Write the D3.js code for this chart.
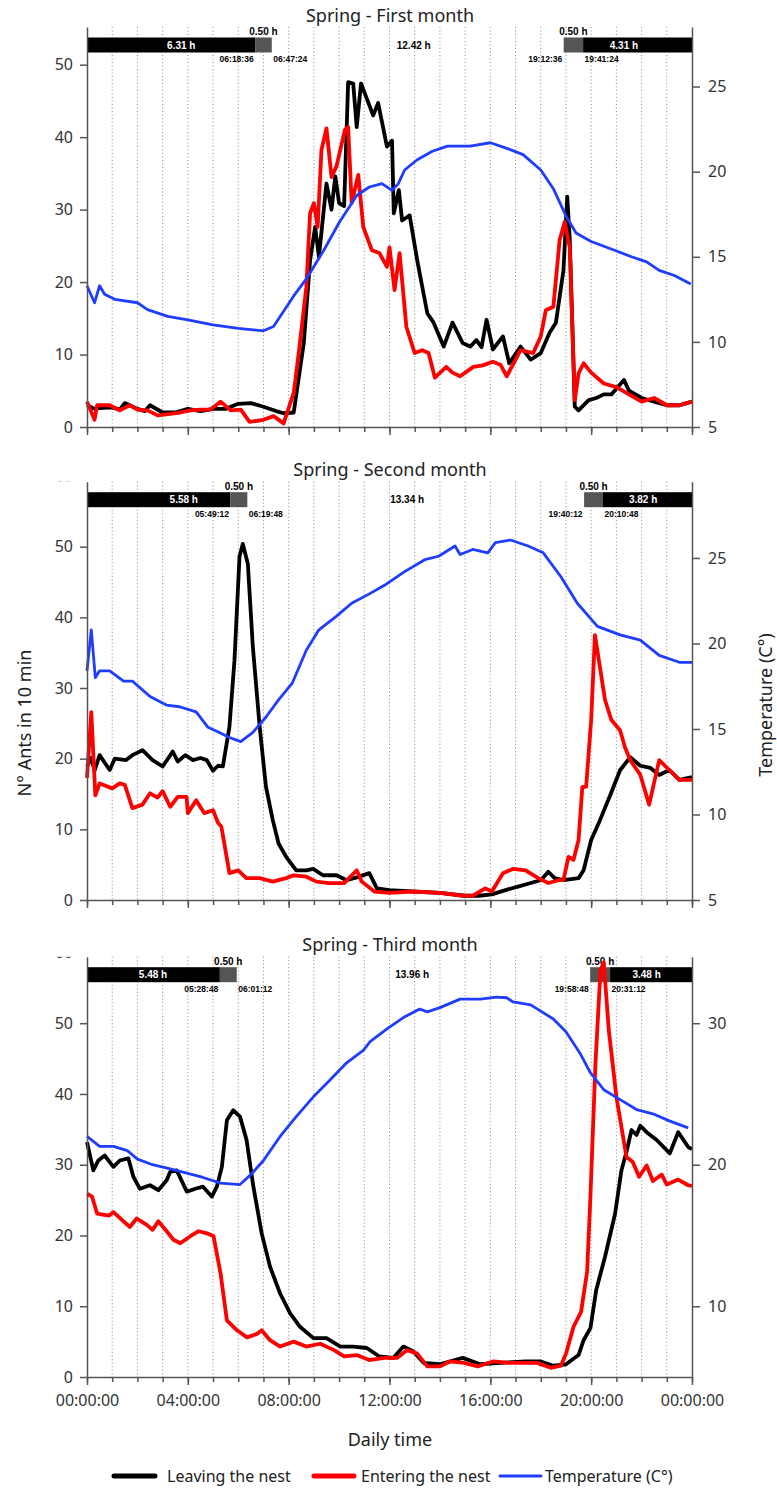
<!DOCTYPE html>
<html>
<head>
<meta charset="utf-8">
<script src="https://cdn.jsdelivr.net/npm/d3@7"></script>
<style>
body{margin:0;background:#fff}
svg{display:block}
</style>
</head>
<body>
<svg id="chart"></svg>
<script>
// [hour of day, value]
const spring1Leaving = [[0,3],[0.3,2.5],[0.5,2.6],[1,2.7],[1.3,2.4],[1.5,3.3],[2,2.5],[2.3,2.2],[2.5,3],[3,2],[3.5,2],[4,2.5],[4.5,2.2],[5,2.5],[5.5,2.5],[6,3.2],[6.5,3.3],[7,2.8],[7.5,2.2],[7.8,1.9],[8.2,2],[8.6,11.6],[8.85,23],[9.05,27.6],[9.2,23.5],[9.5,33.6],[9.7,30],[9.85,34.6],[10,30.9],[10.2,30.5],[10.36,47.6],[10.56,47.4],[10.7,41.4],[10.87,47.4],[11.07,45.6],[11.35,43],[11.55,44.7],[11.9,38.7],[12.1,39.5],[12.17,29.5],[12.37,32.7],[12.5,28.5],[12.8,29.2],[13.1,23],[13.5,15.7],[13.75,14.4],[14.15,11.1],[14.5,14.4],[14.9,11.6],[15.2,11.1],[15.45,12],[15.65,11],[15.85,14.8],[16.1,10.7],[16.5,12.5],[16.75,8.8],[17.2,11.1],[17.6,9.3],[18,10.2],[18.35,13],[18.6,14.4],[18.9,21.6],[19.05,31.8],[19.15,26],[19.35,2.8],[19.5,2.3],[19.9,3.7],[20.2,4],[20.5,4.5],[20.8,4.5],[21.3,6.5],[21.5,5],[22,4],[22.5,3.5],[23,3],[23.5,3],[24,3.5]];
const spring1Entering = [[0,3.5],[0.3,1],[0.4,3],[0.9,3],[1.3,2.3],[1.7,3],[2,2.4],[2.4,2.3],[2.8,1.6],[3.3,1.8],[3.7,2],[4.1,2.3],[4.5,2.4],[4.9,2.4],[5.3,3.5],[5.7,2.3],[6.1,2.4],[6.45,0.7],[7,1],[7.4,1.5],[7.8,0.5],[8.2,4.7],[8.4,10.2],[8.7,19.3],[8.85,29.5],[9,30.9],[9.15,27.6],[9.3,38.2],[9.5,41.2],[9.7,34.5],[9.9,36],[10.23,41],[10.36,41.4],[10.5,30.9],[10.76,34.8],[10.96,27.6],[11.3,24.4],[11.6,24],[11.9,22.1],[12,24.8],[12.2,18.9],[12.4,24],[12.67,13.8],[13,10.2],[13.3,10.6],[13.55,10.2],[13.8,6.8],[14.25,8.3],[14.5,7.5],[14.8,7],[15.33,8.3],[15.7,8.5],[16.1,9],[16.4,8.6],[16.65,7],[17.2,10.6],[17.7,10.2],[18,12.5],[18.2,16.1],[18.5,16.6],[18.75,25.8],[18.95,28.3],[19.15,24.8],[19.35,3.7],[19.5,7.4],[19.7,8.8],[20,7.5],[20.5,6],[21,5.5],[21.5,4.5],[22,3.5],[22.5,4],[23,3],[23.5,3],[24,3.5]];
const spring1Temp = [[0,13.3],[0.3,12.3],[0.5,13.3],[0.7,12.8],[1.1,12.5],[2,12.3],[2.4,11.9],[3.2,11.5],[4,11.3],[5,11],[6,10.8],[7,10.65],[7.4,10.9],[8.2,12.7],[8.7,13.7],[9.4,15.4],[10,17],[10.7,18.6],[11.2,19.1],[11.7,19.3],[12.1,18.9],[12.35,19.3],[12.6,20.1],[13.1,20.7],[13.7,21.2],[14.3,21.5],[15.2,21.5],[16,21.7],[16.6,21.4],[17.3,21],[18,20.1],[18.5,19],[19,17.4],[19.4,16.4],[20,15.9],[20.9,15.4],[21.6,15],[22.2,14.7],[22.7,14.2],[23.3,13.9],[23.95,13.4]];

const spring2Leaving = [[0,18.9],[0.17,20.1],[0.3,18.3],[0.5,20.5],[0.9,18.4],[1.1,20],[1.55,19.8],[1.8,20.5],[2.2,21.2],[2.6,19.8],[3,18.9],[3.4,21],[3.6,19.6],[3.9,20.5],[4.2,19.8],[4.5,20.1],[4.75,19.8],[5,18.3],[5.2,19],[5.39,18.9],[5.65,24.5],[5.85,33.9],[6.05,48.6],[6.18,50.4],[6.38,47.6],[6.58,35.8],[6.85,24.5],[7.1,16],[7.37,11.3],[7.6,8],[7.9,6.1],[8.3,4.2],[8.7,4.2],[8.97,4.4],[9.36,3.5],[9.9,3.5],[10.3,2.8],[10.7,3.2],[11.2,3.8],[11.5,1.65],[12,1.4],[12.9,1.2],[14,1],[15,0.6],[15.55,0.6],[16.06,0.8],[16.6,1.4],[17.1,1.9],[17.6,2.4],[18,2.8],[18.3,4],[18.55,3.1],[18.9,2.8],[19.5,3.1],[19.7,4.2],[20,8.5],[20.35,11.3],[20.75,14.8],[21.15,18.4],[21.55,20.2],[21.95,19],[22.34,18.7],[22.7,17.7],[23.1,18.4],[23.5,17],[24,17.4]];
const spring2Entering = [[0,17.3],[0.17,26.6],[0.33,14.8],[0.5,16.5],[1,15.8],[1.3,16.5],[1.5,16.3],[1.8,13],[2.2,13.5],[2.5,15.1],[2.8,14.5],[3,15.4],[3.3,13.2],[3.6,14.6],[3.95,14.6],[4,12.3],[4.33,14.1],[4.65,12.3],[5,12.7],[5.2,10.9],[5.33,10.4],[5.65,3.8],[6,4.2],[6.32,3.1],[6.85,3.1],[7.37,2.6],[7.9,3.1],[8.2,3.5],[8.7,3.3],[9.1,2.6],[9.6,2.4],[10.2,2.4],[10.7,4.2],[10.9,2.6],[11.4,1.2],[12,1],[12.9,1.2],[14,1],[14.9,0.6],[15.3,0.6],[15.8,1.65],[16.06,1.2],[16.5,3.8],[16.9,4.4],[17.4,4.2],[17.9,3.1],[18.3,2.4],[18.7,2.8],[18.9,2.8],[19.1,6.1],[19.3,5.7],[19.5,8.5],[19.65,16],[19.8,16],[20,25.5],[20.15,37.5],[20.55,28.3],[20.8,25.5],[21.15,24],[21.35,21.5],[21.55,19.8],[21.95,17.7],[22.3,13.5],[22.7,19.8],[23.1,18.4],[23.5,17],[24,17]];
const spring2Temp = [[0,18.4],[0.17,20.8],[0.33,18],[0.5,18.4],[0.9,18.4],[1.45,17.8],[1.8,17.8],[2.5,16.9],[3.15,16.4],[3.67,16.3],[4.33,16],[4.8,15.1],[5.25,14.8],[5.65,14.5],[6.1,14.26],[6.58,14.8],[7.1,15.7],[7.6,16.7],[8.15,17.7],[8.7,19.6],[9.2,20.8],[9.9,21.6],[10.5,22.35],[11.2,22.9],[11.8,23.4],[12.6,24.2],[13.4,24.9],[13.95,25.1],[14.6,25.7],[14.8,25.2],[15.3,25.5],[15.9,25.3],[16.2,25.9],[16.8,26.05],[17.5,25.7],[18.1,25.3],[18.8,23.9],[19.45,22.35],[20.25,21],[21.15,20.5],[21.95,20.2],[22.7,19.3],[23.5,18.9],[24,18.9]];

const spring3Leaving = [[0,33.2],[0.25,29.2],[0.45,30.6],[0.7,31.3],[1.05,29.7],[1.3,30.6],[1.64,30.9],[1.84,28.3],[2.1,26.6],[2.5,27.1],[2.83,26.4],[3.16,27.8],[3.3,29],[3.56,29.2],[3.96,26.2],[4.3,26.6],[4.6,26.9],[4.95,25.5],[5.15,26.9],[5.35,29.7],[5.55,36.3],[5.8,37.7],[6.07,36.8],[6.33,33.5],[6.6,26.9],[6.93,20.3],[7.26,15.6],[7.66,11.8],[8.06,9],[8.45,7.1],[8.98,5.5],[9.5,5.5],[10.05,4.3],[10.57,4.3],[11.1,4.1],[11.6,2.9],[12.15,2.7],[12.55,4.3],[12.95,3.6],[13.35,2],[14,1.8],[14.9,2.7],[15.6,1.8],[16.4,2],[17.4,2.2],[18,2.2],[18.5,1.6],[19,1.8],[19.5,3.1],[19.7,5.2],[19.97,6.9],[20.2,12.3],[20.55,17],[20.95,23.1],[21.2,29.2],[21.4,31.8],[21.6,34.9],[21.8,34.2],[21.95,35.5],[22.2,34.6],[22.6,33.5],[23.12,31.6],[23.45,34.6],[23.85,32.5],[24,32.2]];
const spring3Entering = [[0,25.9],[0.2,25.5],[0.4,23.1],[0.86,22.8],[1.05,23.3],[1.45,22],[1.7,21.2],[1.97,22.4],[2.37,21.5],[2.6,20.8],[2.83,22],[3.16,20.6],[3.43,19.4],[3.7,18.9],[4.1,19.9],[4.43,20.6],[4.76,20.3],[5.02,19.9],[5.3,14.6],[5.55,8],[5.95,6.6],[6.35,5.6],[6.75,6.1],[6.93,6.6],[7.26,5.2],[7.66,4.3],[8.2,5],[8.7,4.3],[9.25,4.7],[9.8,3.8],[10.2,2.9],[10.7,3.1],[11.2,2.4],[11.8,2.7],[12.3,2.7],[12.7,3.8],[13.1,3.3],[13.5,1.5],[14,1.5],[14.4,2.2],[14.95,2],[15.5,1.5],[16.1,2.2],[16.8,2],[17.4,2],[17.85,2],[18.4,1.3],[18.8,1.6],[19,3.3],[19.3,7.1],[19.6,9.2],[19.84,14.9],[19.97,25.5],[20.17,44.3],[20.37,57.5],[20.5,58.6],[20.7,49],[21,39.6],[21.4,31.1],[21.65,30.4],[21.9,28.3],[22.2,29.9],[22.45,27.7],[22.8,28.6],[23,27.2],[23.45,27.9],[23.85,27.1],[24,27]];
const spring3Temp = [[0,22],[0.5,21.3],[1.05,21.3],[1.6,21],[2,20.4],[2.6,20],[3.3,19.7],[3.96,19.4],[4.6,19.1],[5.3,18.7],[6.07,18.6],[6.5,19.3],[7,20.3],[7.66,22],[8.3,23.4],[8.98,24.8],[9.65,26],[10.3,27.2],[10.97,28.1],[11.23,28.7],[11.9,29.6],[12.55,30.4],[13.2,31],[13.5,30.8],[14,31.1],[14.8,31.7],[15.6,31.7],[16.25,31.85],[16.65,31.8],[16.9,31.5],[17.6,31.3],[18,30.85],[18.5,30.3],[19,29.4],[19.55,27.9],[19.97,26.5],[20.5,25.3],[21.15,24.6],[21.8,23.9],[22.45,23.6],[23.1,23.1],[23.85,22.6]];

// day/night bar: edges of the two twilight blocks (hours), texts, sun times
const spring1Bar = [6.67,7.33,18.91,19.68];
const spring1BarText = ["6.31 h","12.42 h","4.31 h"];
const spring1BarTextAt = [3.74,12.96,21.3];
const spring1SunTimes = ["06:18:36","06:47:24","19:12:36","19:41:24"];
const spring2Bar = [5.69,6.36,19.72,20.47];
const spring2BarText = ["5.58 h","13.34 h","3.82 h"];
const spring2BarTextAt = [3.84,12.7,22.06];
const spring2SunTimes = ["05:49:12","06:19:48","19:40:12","20:10:48"];
const spring3Bar = [5.27,5.94,19.96,20.75];
const spring3BarText = ["5.48 h","13.96 h","3.48 h"];
const spring3BarTextAt = [2.62,12.9,22.2];
const spring3SunTimes = ["05:28:48","06:01:12","19:58:48","20:31:12"];
const twilightText = "0.50 h";

const countTicks = [0,10,20,30,40,50,60];
const temp1Ticks = [5,10,15,20,25];
const temp2Ticks = [5,10,15,20,25,30];
const temp3Ticks = [10,20,30];
const timeTicks = [0,4,8,12,16,20,24];
const timeLabels = ["00:00:00","04:00:00","08:00:00","12:00:00","16:00:00","20:00:00","00:00:00"];
const seriesNames = ["Leaving the nest","Entering the nest","Temperature (C°)"];

const W = 777, H = 1490;
const left = 87, right = 692;
const font = "'Noto Sans', 'Open Sans', sans-serif";
const barFont = "'Liberation Sans', Arial, sans-serif";
const colors = {leave:"#000000", enter:"#ff0000", temp:"#1f3cff"};

const svg = d3.select("#chart").attr("width",W).attr("height",H);
const x = d3.scaleLinear().domain([0,24]).range([left,right]);

function panel(cfg,idx){
    const top = cfg.top, bottom = cfg.bottom;
    const y = d3.scaleLinear().domain([0,cfg.yMax]).range([bottom,top]);
    const yt = d3.scaleLinear().domain([5,cfg.tMax]).range([bottom,top]);
    const g = svg.append("g");

    // axis groups are translated in x only, so a wide rect in their own coords
    svg.append("clipPath").attr("id","clip"+idx)
        .append("rect").attr("x",-200).attr("y",top).attr("width",W+400).attr("height",bottom-top+60);

    // hourly dotted grid
    g.selectAll(".grid").data(d3.range(1,24)).join("line")
        .attr("x1",d=>x(d)).attr("x2",d=>x(d))
        .attr("y1",top).attr("y2",bottom)
        .attr("stroke","#8a8a8a").attr("stroke-width",1)
        .attr("stroke-dasharray","1,2.5");

    // title
    g.append("text").attr("x",390).attr("y",top-5.5)
        .attr("text-anchor","middle").attr("font-family",font).attr("font-size",18)
        .attr("fill","#222").text(cfg.title);

    // night / twilight / day bar
    const b = cfg.bar;
    const by = top+10.5, bh = 15;
    const segs = [[0,b[0],"#000"],[b[0],b[1],"#555"],[b[2],b[3],"#555"],[b[3],24,"#000"]];
    g.selectAll(".seg").data(segs).join("rect")
        .attr("x",d=>x(d[0])).attr("width",d=>x(d[1])-x(d[0]))
        .attr("y",by).attr("height",bh).attr("fill",d=>d[2]);
    g.selectAll(".dur").data(cfg.barText).join("text")
        .attr("x",(d,i)=>x(cfg.barTextAt[i])).attr("y",by+bh/2+3.5)
        .attr("text-anchor","middle").attr("font-family",barFont)
        .attr("font-weight","bold").attr("font-size",10)
        .attr("fill",(d,i)=>i==1?"#000":"#fff").text(d=>d);
    g.selectAll(".tw").data([(b[0]+b[1])/2,(b[2]+b[3])/2]).join("text")
        .attr("x",d=>x(d)).attr("y",top+8)
        .attr("text-anchor","middle").attr("font-family",barFont)
        .attr("font-weight","bold").attr("font-size",10).attr("fill","#000")
        .text(twilightText);
    g.selectAll(".sun").data(cfg.sunTimes).join("text")
        .attr("x",(d,i)=>x(b[i])+(i%2==0?-1.5:1.5)).attr("y",top+35)
        .attr("text-anchor",(d,i)=>i%2==0?"end":"start")
        .attr("font-family",barFont).attr("font-weight","bold").attr("font-size",8.5)
        .attr("fill","#000").text(d=>d);

    // series
    const lineC = d3.line().x(d=>x(d[0])).y(d=>y(d[1]));
    const lineT = d3.line().x(d=>x(d[0])).y(d=>yt(d[1]));
    g.append("path").datum(cfg.leave).attr("d",lineC)
        .attr("fill","none").attr("stroke",colors.leave).attr("stroke-width",3.8).attr("stroke-linejoin","round");
    g.append("path").datum(cfg.enter).attr("d",lineC)
        .attr("fill","none").attr("stroke",colors.enter).attr("stroke-width",3.8).attr("stroke-linejoin","round");
    g.append("path").datum(cfg.temp).attr("d",lineT)
        .attr("fill","none").attr("stroke",colors.temp).attr("stroke-width",2.8).attr("stroke-linejoin","round");

    // axes (the half-hidden top count label only where the reference shows it)
    const yAxis = g.append("g").attr("transform",`translate(${left},0)`)
        .attr("clip-path",`url(#clip${idx})`)
        .call(d3.axisLeft(y).tickValues(countTicks.filter(v=>v<=cfg.yMax+2)).tickSize(7).tickSizeOuter(0).tickPadding(7));
    const tAxis = g.append("g").attr("transform",`translate(${right},0)`)
        .attr("clip-path",`url(#clip${idx})`)
        .call(d3.axisRight(yt).tickValues(cfg.tempTicks).tickSize(8).tickSizeOuter(0).tickPadding(8));
    const xMinor = g.append("g").attr("transform",`translate(0,${bottom})`)
        .call(d3.axisBottom(x).tickValues(d3.range(0,25)).tickSize(5).tickSizeOuter(0).tickFormat(""));
    const xMajor = g.append("g").attr("transform",`translate(0,${bottom})`)
        .call(d3.axisBottom(x).tickValues(timeTicks).tickSize(8).tickSizeOuter(0).tickPadding(10)
            .tickFormat((d,i)=>cfg.showX?timeLabels[i]:""));
    [yAxis,tAxis,xMinor,xMajor].forEach(a=>{
        a.select(".domain").attr("stroke","#555").attr("stroke-width",1.5);
        a.selectAll(".tick line").attr("stroke","#555").attr("stroke-width",1.5);
        a.selectAll(".tick text").attr("font-family",font).attr("font-size",16).attr("fill","#333");
    });
    xMajor.select(".domain").remove();
}

panel({top:27,bottom:427,yMax:55.2,tMax:28.5,title:"Spring - First month",
    leave:spring1Leaving,enter:spring1Entering,temp:spring1Temp,tempTicks:temp1Ticks,
    bar:spring1Bar,barText:spring1BarText,barTextAt:spring1BarTextAt,sunTimes:spring1SunTimes,showX:false},1);
panel({top:481.7,bottom:900,yMax:59.2,tMax:29.46,title:"Spring - Second month",
    leave:spring2Leaving,enter:spring2Entering,temp:spring2Temp,tempTicks:temp2Ticks,
    bar:spring2Bar,barText:spring2BarText,barTextAt:spring2BarTextAt,sunTimes:spring2SunTimes,showX:false},2);
panel({top:956.7,bottom:1377,yMax:59.4,tMax:34.7,title:"Spring - Third month",
    leave:spring3Leaving,enter:spring3Entering,temp:spring3Temp,tempTicks:temp3Ticks,
    bar:spring3Bar,barText:spring3BarText,barTextAt:spring3BarTextAt,sunTimes:spring3SunTimes,showX:true},3);

// axis titles
svg.append("text").attr("transform","translate(31,723) rotate(-90)")
    .attr("text-anchor","middle").attr("font-family",font).attr("font-size",18).attr("fill","#222")
    .text("N° Ants in 10 min");
svg.append("text").attr("transform","translate(772,705) rotate(-90)")
    .attr("text-anchor","middle").attr("font-family",font).attr("font-size",18).attr("fill","#222")
    .text("Temperature (C°)");
svg.append("text").attr("x",390).attr("y",1446)
    .attr("text-anchor","middle").attr("font-family",font).attr("font-size",18).attr("fill","#222")
    .text("Daily time");

// legend
const legend = [
    {x1:114,x2:155,tx:167,color:colors.leave,w:5},
    {x1:314,x2:354,tx:361,color:colors.enter,w:5},
    {x1:500,x2:541,tx:545,color:colors.temp,w:3}
];
const lg = svg.append("g");
lg.selectAll("line").data(legend).join("line")
    .attr("x1",d=>d.x1).attr("x2",d=>d.x2).attr("y1",1476).attr("y2",1476)
    .attr("stroke",d=>d.color).attr("stroke-width",d=>d.w).attr("stroke-linecap","round");
lg.selectAll("text").data(legend).join("text")
    .attr("x",d=>d.tx).attr("y",1482)
    .attr("font-family",font).attr("font-size",16).attr("fill","#222")
    .text((d,i)=>seriesNames[i]);
</script>
</body>
</html>
